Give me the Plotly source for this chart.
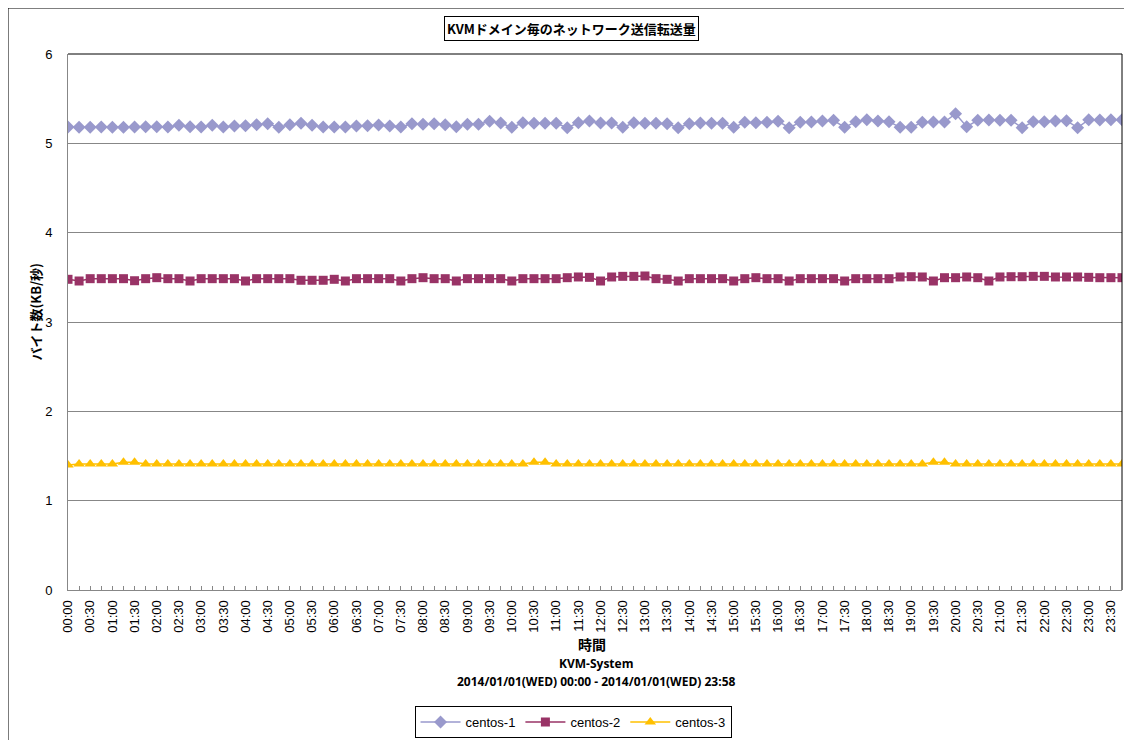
import plotly.graph_objects as go

# 15-minute samples, 00:00 - 23:45
times = ["%02d:%02d" % (h, m) for h in range(24) for m in (0, 15, 30, 45)]

centos1 = [5.183, 5.179, 5.179, 5.183, 5.179, 5.179, 5.183, 5.187, 5.187, 5.183,
           5.202, 5.187, 5.183, 5.202, 5.183, 5.194, 5.198, 5.209, 5.220, 5.179,
           5.209, 5.224, 5.202, 5.183, 5.183, 5.183, 5.194, 5.198, 5.205, 5.194,
           5.183, 5.220, 5.213, 5.220, 5.209, 5.187, 5.213, 5.213, 5.246, 5.228,
           5.179, 5.231, 5.224, 5.224, 5.224, 5.175, 5.231, 5.250, 5.228, 5.228,
           5.179, 5.231, 5.224, 5.224, 5.220, 5.175, 5.220, 5.228, 5.224, 5.224,
           5.179, 5.235, 5.231, 5.235, 5.246, 5.175, 5.235, 5.239, 5.250, 5.257,
           5.179, 5.243, 5.265, 5.250, 5.243, 5.179, 5.179, 5.235, 5.239, 5.239,
           5.332, 5.187, 5.257, 5.261, 5.257, 5.257, 5.175, 5.243, 5.243, 5.250,
           5.254, 5.175, 5.265, 5.261, 5.265, 5.265]

centos2 = [3.478, 3.459, 3.485, 3.485, 3.485, 3.485, 3.462, 3.485, 3.496, 3.485,
           3.485, 3.459, 3.485, 3.485, 3.485, 3.485, 3.459, 3.485, 3.485, 3.485,
           3.485, 3.467, 3.467, 3.467, 3.478, 3.459, 3.485, 3.485, 3.485, 3.485,
           3.459, 3.485, 3.496, 3.485, 3.485, 3.459, 3.485, 3.485, 3.485, 3.485,
           3.459, 3.485, 3.485, 3.485, 3.485, 3.496, 3.504, 3.500, 3.459, 3.504,
           3.511, 3.511, 3.515, 3.485, 3.478, 3.459, 3.485, 3.485, 3.485, 3.485,
           3.459, 3.485, 3.496, 3.485, 3.485, 3.459, 3.485, 3.485, 3.485, 3.485,
           3.459, 3.485, 3.485, 3.485, 3.485, 3.504, 3.507, 3.504, 3.459, 3.496,
           3.496, 3.504, 3.496, 3.459, 3.504, 3.507, 3.507, 3.511, 3.511, 3.504,
           3.504, 3.504, 3.500, 3.496, 3.496, 3.496]

centos3 = [1.40, 1.41, 1.41, 1.41, 1.41, 1.43, 1.43, 1.41, 1.41, 1.41,
           1.41, 1.41, 1.41, 1.41, 1.41, 1.41, 1.41, 1.41, 1.41, 1.41,
           1.41, 1.41, 1.41, 1.41, 1.41, 1.41, 1.41, 1.41, 1.41, 1.41,
           1.41, 1.41, 1.41, 1.41, 1.41, 1.41, 1.41, 1.41, 1.41, 1.41,
           1.41, 1.41, 1.43, 1.43, 1.41, 1.41, 1.41, 1.41, 1.41, 1.41,
           1.41, 1.41, 1.41, 1.41, 1.41, 1.41, 1.41, 1.41, 1.41, 1.41,
           1.41, 1.41, 1.41, 1.41, 1.41, 1.41, 1.41, 1.41, 1.41, 1.41,
           1.41, 1.41, 1.41, 1.41, 1.41, 1.41, 1.41, 1.41, 1.43, 1.43,
           1.41, 1.41, 1.41, 1.41, 1.41, 1.41, 1.41, 1.41, 1.41, 1.41,
           1.41, 1.41, 1.41, 1.41, 1.41, 1.41]

jp = "Noto Sans CJK JP"
x = list(range(len(times)))

fig = go.Figure()
fig.add_trace(go.Scatter(x=x, y=centos1, name="centos-1", mode="lines+markers",
                         line=dict(color="#9999CC", width=1.5),
                         marker=dict(symbol="diamond", size=10, color="#9999CC")))
fig.add_trace(go.Scatter(x=x, y=centos2, name="centos-2", mode="lines+markers",
                         line=dict(color="#993366", width=1.5),
                         marker=dict(symbol="square", size=9, color="#993366")))
fig.add_trace(go.Scatter(x=x, y=centos3, name="centos-3", mode="lines+markers",
                         line=dict(color="#FFC000", width=1.5),
                         marker=dict(symbol="triangle-up", size=10, color="#FFC000")))

# page has an 8px body margin, so the figure sits at (8, 8)
fig.update_layout(
    width=1124, height=732,
    margin=dict(l=60, r=10, t=46, b=150),
    plot_bgcolor="white", paper_bgcolor="white",
    font=dict(family="Liberation Sans", size=12, color="black"),
    showlegend=True,
    legend=dict(orientation="h", xref="container", yref="container",
                x=0.5027, xanchor="center", y=0.0464, yanchor="top",
                bordercolor="black", borderwidth=1, font=dict(size=13),
                itemwidth=40, tracegroupgap=0),
    shapes=[
        dict(type="rect", xref="paper", yref="paper", x0=-0.0569, x1=1.2,
             y0=-0.4, y1=1.0858, line=dict(color="black", width=1)),
        dict(type="line", xref="paper", yref="paper", x0=0, x1=1, y0=1, y1=1,
             line=dict(color="black", width=1)),
        dict(type="line", xref="paper", yref="paper", x0=1, x1=1, y0=0, y1=1,
             line=dict(color="black", width=1)),
    ],
    annotations=[
        dict(text="<b>KVMドメイン毎のネットワーク送信転送量</b>", xref="paper", yref="paper",
             x=0.478, y=1.0485, xanchor="center", yanchor="middle", showarrow=False,
             font=dict(family=jp, size=13), bordercolor="black", borderwidth=1,
             borderpad=2, bgcolor="white"),
        dict(text="<b>時間</b>", xref="paper", yref="paper", x=0.497, y=-0.1007,
             xanchor="center", yanchor="middle", showarrow=False,
             font=dict(family=jp, size=14)),
        dict(text="<b>KVM-System</b>", xref="paper", yref="paper", x=0.501, y=-0.138,
             xanchor="center", yanchor="middle", showarrow=False,
             font=dict(family="Open Sans", size=12)),
        dict(text="<b>2014/01/01(WED) 00:00 - 2014/01/01(WED) 23:58</b>", xref="paper",
             yref="paper", x=0.501, y=-0.1698, xanchor="center", yanchor="middle",
             showarrow=False, font=dict(family="Open Sans", size=12)),
        dict(text="<b>バイト数(KB/秒)</b>", xref="paper", yref="paper", x=-0.031, y=0.52,
             xanchor="center", yanchor="middle", textangle=-90, showarrow=False,
             font=dict(family=jp, size=13)),
    ],
)

fig.update_xaxes(
    range=[0, len(times) - 1], automargin=False,
    tickmode="array", tickvals=x[::2], ticktext=times[::2], tickangle=-90,
    tickfont=dict(family="Liberation Sans", size=13), ticklabelstandoff=4,
    showgrid=False, showline=True, linecolor="#878787", linewidth=1,
    ticks="inside", ticklen=4, tickcolor="#878787",
    minor=dict(ticks="inside", tickmode="linear", tick0=0, dtick=1, ticklen=4,
               tickcolor="#878787", showgrid=False),
)
fig.update_yaxes(
    range=[0, 6], dtick=1, showgrid=True, gridcolor="#878787", gridwidth=1,
    showline=True, linecolor="#878787", linewidth=1, automargin=False,
    ticks="", ticklabelstandoff=12,
    tickfont=dict(family="Liberation Sans", size=13),
    zeroline=False,
)

fig.write_html("out.html")
